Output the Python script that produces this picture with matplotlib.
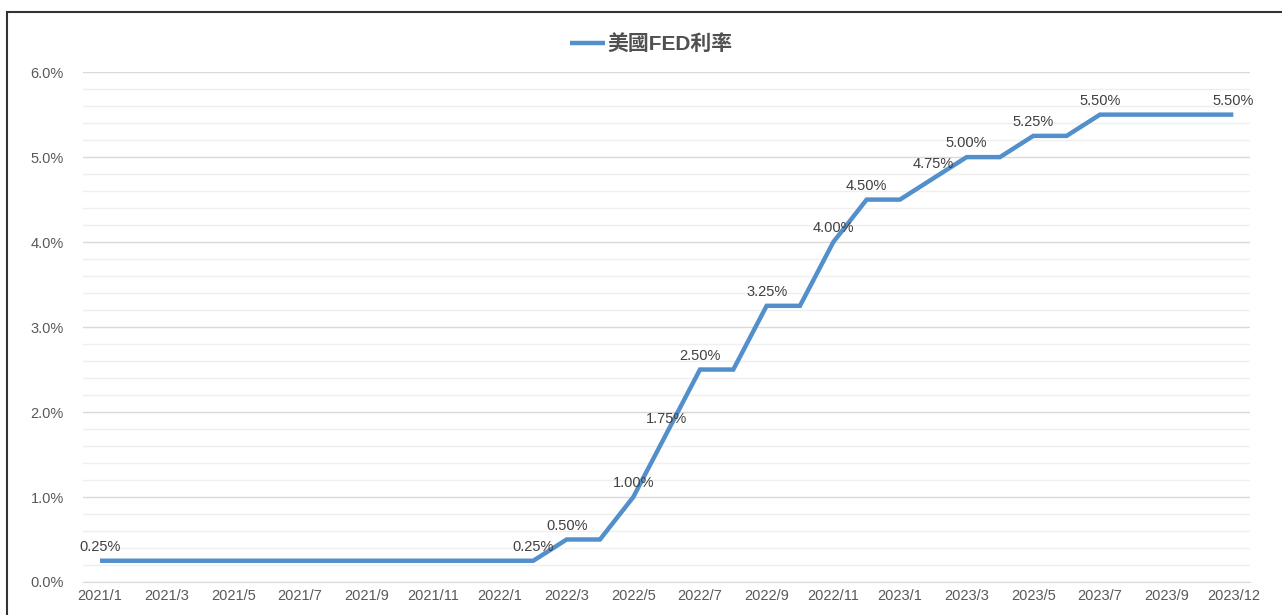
import matplotlib.pyplot as plt
from matplotlib.patches import Rectangle
from matplotlib.ticker import MultipleLocator, FuncFormatter

plt.rcParams['font.family'] = ['Liberation Sans', 'Noto Sans CJK TC']

# 月份 (2023/11 not in the source series)
months = ['2021/%d' % m for m in range(1, 13)] + \
         ['2022/%d' % m for m in range(1, 13)] + \
         ['2023/%d' % m for m in range(1, 11)] + ['2023/12']

rate = [0.25] * 14 + [0.50, 0.50, 1.00, 1.75, 2.50, 2.50, 3.25, 3.25,
                       4.00, 4.50, 4.50, 4.75, 5.00, 5.00, 5.25, 5.25,
                       5.50, 5.50, 5.50, 5.50, 5.50]

# points that carry a data label
label_idx = [0, 13, 14, 16, 17, 18, 20, 22, 23, 25, 26, 28, 30, 34]

series_name = '美國FED利率'
line_color = '#5390CB'
text_color = '#595959'

fig = plt.figure(figsize=(12.82, 6.15), dpi=100)
ax = fig.add_axes([0.065, 0.0537, 0.910, 0.829])

x = list(range(len(months)))
ax.plot(x, rate, color=line_color, lw=3.2, solid_joinstyle='miter',
        solid_capstyle='butt', label=series_name, zorder=3)

for i in label_idx:
    ax.annotate('%.2f%%' % rate[i], (x[i], rate[i]), xytext=(0, 5),
                textcoords='offset points', ha='center', va='bottom',
                fontsize=10.5, color='#404040', zorder=4)

ax.set_xlim(-0.5, len(months) - 0.5)
ax.set_ylim(0, 6)
ax.yaxis.set_major_locator(MultipleLocator(1))
ax.yaxis.set_minor_locator(MultipleLocator(0.2))
ax.yaxis.set_major_formatter(FuncFormatter(lambda v, p: '%.1f%%' % v))
ax.grid(axis='y', which='major', color='#D9D9D9', lw=1)
ax.grid(axis='y', which='minor', color='#EFEFEF', lw=1)
ax.set_axisbelow(True)

ax.set_xticks(x[::2])
ax.set_xticklabels(months[::2])
ax.tick_params(axis='both', which='both', length=0, labelsize=10.5,
               labelcolor=text_color)
ax.tick_params(axis='y', pad=14)
ax.tick_params(axis='x', pad=5)

for s in ['top', 'right', 'left']:
    ax.spines[s].set_visible(False)
ax.spines['bottom'].set_color('#D9D9D9')

leg = fig.legend(loc='center', bbox_to_anchor=(0.508, 0.928), frameon=False,
                 fontsize=15, handlelength=1.7, handletextpad=0.1)
for t in leg.get_texts():
    t.set_color('#505050')
    t.set_fontweight('bold')

# outer chart border
fig.patches.append(Rectangle((7 / 1282, -0.05), 1.1, 1 - 12 / 615 + 0.05,
                             transform=fig.transFigure, fill=False,
                             edgecolor='#333333', lw=1.5))

fig.savefig('out.png', dpi=100)
